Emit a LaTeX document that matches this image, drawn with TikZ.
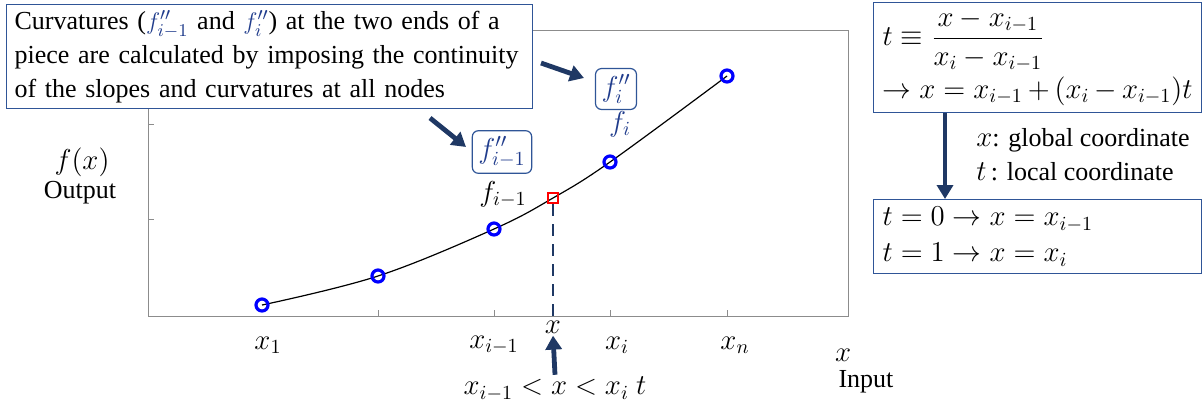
\documentclass[tikz,border=0pt]{standalone}
\usepackage{amsmath}
\usepackage{fontspec}
\setmainfont{Liberation Serif}
\usetikzlibrary{arrows.meta,calc}
\definecolor{navy}{HTML}{1F3864}
\definecolor{boxblue}{HTML}{2F5597}
\definecolor{pblue}{HTML}{0000FF}
\definecolor{fblue}{HTML}{203C8C}
\begin{document}
\begin{tikzpicture}[x=0.5pt,y=-0.5pt,
  font=\fontsize{13}{17}\selectfont,
  mfont/.style={font=\fontsize{14.5}{18}\selectfont},
  frame/.style={draw=black!45, line width=0.5pt},
  knot/.style={circle, draw=pblue, line width=1.6pt, minimum size=6pt, inner sep=0pt},
  bigarrow/.style={draw=navy, line width=2.4pt, -{Triangle[length=7pt,width=8pt]}},
  infobox/.style={draw=boxblue, line width=0.6pt, fill=white, align=left, inner xsep=4pt, inner ysep=3pt},
  curvbox/.style={draw=boxblue, line width=0.6pt, rounded corners=3pt, text=fblue, inner sep=3pt, mfont},
  lbl/.style={inner sep=1pt, mfont}]
\useasboundingbox (0,0) rectangle (1202,409);

% plot frame
\draw[frame] (148,30) rectangle (848,316);
\foreach \yy in {124,219} \draw[frame] (148,\yy) -- (154,\yy);
\foreach \xx in {378,494,610,727} \draw[frame] (\xx,316) -- (\xx,310);

% curve
\draw[black, line width=0.6pt] plot[smooth, tension=0.6] coordinates {(262,305) (378,276) (494,229) (553,198) (610,162) (727,76)};

% dashed line
\node[draw=red, line width=1.1pt, minimum size=5pt, inner sep=0pt] (sq) at (553,198) {};
\coordinate (axis) at (553,316);
\draw[navy, dashed, dash pattern=on 6pt off 4pt, line width=1pt] (sq.south) -- (axis);

% knots
\node[knot] (p1) at (262,305) {};
\node[knot] (p2) at (378,276) {};
\node[knot] (p3) at (494,229) {};
\node[knot] (p4) at (610,162) {};
\node[knot] (p5) at (727,76) {};

% axis labels
\node[lbl] (lx1) at (268,345) {$x_1$};
\node[lbl] (lxim) at (494,345) {$x_{i-1}$};
\node[lbl] (lx) at (553,327) {$x$};
\node[lbl] (lxi) at (617,345) {$x_i$};
\node[lbl] (lxn) at (735,345) {$x_n$};
\node[lbl] (lxax) at (843,355) {$x$};
\node[inner sep=1pt] (linput) at (866,382) {Input};
\node[lbl] (lfx) at (82,162) {$f(x)$};
\node[inner sep=1pt] (lout) at (80,193) {Output};
\node[lbl] (ineq) at (555,389) {$x_{i-1} < x < x_i\ t$};
\draw[bigarrow] (ineq.north) -- (lx.south);

% f labels
\node[lbl] (lfim) at (503,194) {$f_{i-1}$};
\node[lbl, text=fblue] (lfi) at (620,124) {$f_i$};
\node[curvbox] (fibox) at (616,89) {$f_i''$};
\node[curvbox] (fimbox) at (502,152) {$f''_{i-1}$};

% callout
\node[infobox, anchor=north west, text width=255pt] (callout) at (6,4)
  {Curvatures ({\color{fblue}$f''_{i-1}$} and {\color{fblue}$f_i''$}) at the two ends of a piece are calculated by imposing the continuity of the slopes and curvatures at all nodes};
\coordinate (a1s) at (541,63);
\coordinate (a1e) at (584,78);
\coordinate (a2s) at (430,118);
\coordinate (a2e) at (466,147);
\draw[bigarrow] (a1s) -- (a1e);
\draw[bigarrow] (a2s) -- (a2e);

% right boxes
\node[infobox, mfont, anchor=north west, minimum width=328*0.5pt, minimum height=103*0.5pt, text width=155pt, inner ysep=3.5pt] (box1) at (873,2)
  {$t \equiv \dfrac{x - x_{i-1}}{x_i - x_{i-1}}$\\[1.5pt] $\rightarrow x = x_{i-1} + (x_i - x_{i-1})t$};
\node[infobox, mfont, anchor=north west, minimum width=328*0.5pt, minimum height=74*0.5pt, text width=155pt, inner ysep=2pt] (box2) at (873,199)
  {$t = 0 \rightarrow x = x_{i-1}$\\ $t = 1 \rightarrow x = x_i$};
\coordinate (ax) at (945,0);
\draw[bigarrow] (ax |- box1.south) -- (ax |- box2.north);
\node[inner sep=1pt, anchor=west, align=left] (coords) at (974,155) {{\fontsize{14.5}{17}\selectfont$x$}: global coordinate\\ {\fontsize{14.5}{17}\selectfont$t$}\,: local coordinate};
\end{tikzpicture}
\end{document}
